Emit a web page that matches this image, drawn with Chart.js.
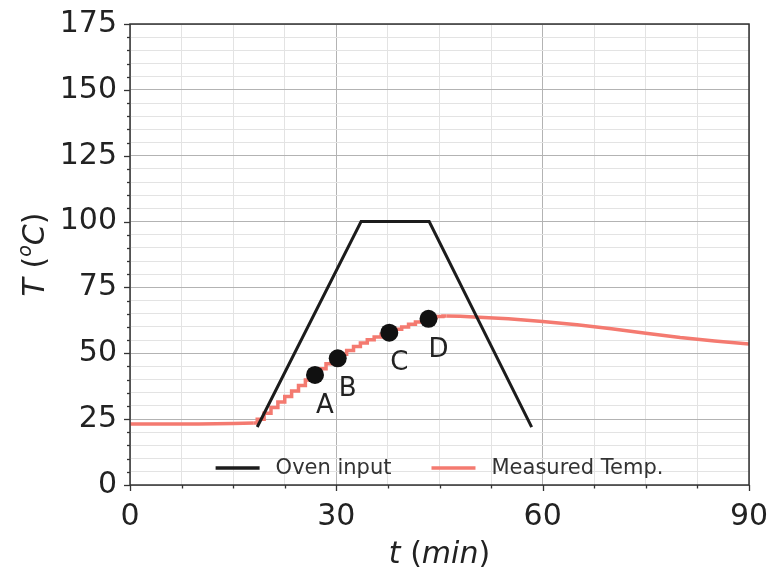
<!DOCTYPE html>
<html>
<head>
<meta charset="utf-8">
<script src="https://cdn.jsdelivr.net/npm/chart.js@4.4.1/dist/chart.umd.min.js"></script>
<style>
  html, body { margin: 0; padding: 0; background: #fff; }
</style>
</head>
<body>
<canvas id="myChart" width="771" height="572"></canvas>
<script>
// ----- data -----
const seriesNames = ['Oven input', 'Measured Temp.'];

const ovenTime = [18.5, 33.6, 43.5, 58.4];
const ovenTemp = [22, 100, 100, 22];

const measTime = [0, 5, 10, 15, 18, 19, 20, 21, 22, 23, 24, 25, 26, 27, 28, 29, 30,
                  31, 32, 33, 34, 35, 36, 37, 38, 39, 40, 41, 42, 43, 44, 45, 46,
                  48, 50, 55, 60, 65, 70, 75, 80, 85, 90];
const measTemp = [23.2, 23.2, 23.2, 23.3, 23.5, 25, 27.2, 29.4, 31.5, 33.6, 35.7, 37.8, 39.9, 42, 44.1, 46, 47.8,
                  49.6, 51.1, 52.6, 53.9, 55.1, 56.2, 57.2, 58.2, 59.1, 60, 61, 61.9, 62.8, 63.5, 64, 64.2,
                  64.1, 63.8, 63.1, 62.1, 60.8, 59.3, 57.6, 56, 54.7, 53.5];

const pointTime = [26.9, 30.2, 37.7, 43.4];
const pointTemp = [41.8, 48.1, 57.8, 63.1];
const pointLabels = ['A', 'B', 'C', 'D'];

const xTickLabels = [0, 30, 60, 90];
const yTickLabels = [0, 25, 50, 75, 100, 125, 150, 175];

// ----- styles -----
const FONT = "'DejaVu Sans', sans-serif";
const OVEN_COLOR = '#1c1c1c';
const MEAS_COLOR = '#f47a70';

function xy(ts, vs) { return ts.map((t, i) => ({ x: t, y: vs[i] })); }
const measAll = xy(measTime, measTemp);
const measFlat = measAll.filter(p => p.x <= 18);
const measRise = measAll.filter(p => p.x >= 18 && p.x <= 46);
const measTail = measAll.filter(p => p.x >= 46);

// mixed-font text helper (for axis titles)
function drawRich(ctx, parts, cx, baseY) {
  let total = 0;
  parts.forEach(p => { ctx.font = p.f; p.w = ctx.measureText(p.t).width; total += p.w; });
  let x = cx - total / 2;
  ctx.textAlign = 'left';
  ctx.textBaseline = 'alphabetic';
  parts.forEach(p => { ctx.font = p.f; ctx.fillText(p.t, x, baseY + (p.dy || 0)); x += p.w; });
}

const decorPlugin = {
  id: 'decor',
  afterDatasetsDraw(chart) {
    const ctx = chart.ctx;
    const a = chart.chartArea;
    ctx.save();
    // frame
    ctx.strokeStyle = '#333';
    ctx.lineWidth = 1.5;
    ctx.strokeRect(a.left, a.top, a.right - a.left, a.bottom - a.top);
    // tick marks
    const xs = chart.scales.x, ys = chart.scales.y;
    ctx.lineWidth = 1.3;
    ys.ticks.forEach(t => {
      const py = Math.round(ys.getPixelForValue(t.value)) + 0.5;
      const len = t.value % 25 === 0 ? 6 : 3;
      ctx.beginPath(); ctx.moveTo(a.left - len, py); ctx.lineTo(a.left, py); ctx.stroke();
    });
    xs.ticks.forEach(t => {
      const px = Math.round(xs.getPixelForValue(t.value)) + 0.5;
      const len = t.value % 30 === 0 ? 6 : 3.5;
      ctx.beginPath(); ctx.moveTo(px, a.bottom); ctx.lineTo(px, a.bottom + len); ctx.stroke();
    });
    // point labels
    const meta = chart.getDatasetMeta(0);
    ctx.fillStyle = '#222';
    ctx.font = '26px ' + FONT;
    ctx.textAlign = 'center';
    ctx.textBaseline = 'middle';
    meta.data.forEach((el, i) => ctx.fillText(pointLabels[i], el.x + 10, el.y + 31));
    // legend (inside plot, bottom centre)
    ctx.font = '21px ' + FONT;
    const items = [
      { name: seriesNames[0], color: OVEN_COLOR },
      { name: seriesNames[1], color: MEAS_COLOR }
    ];
    const handle = 44, pad = 16, gap = 40;
    let total = 0;
    items.forEach((it, i) => { it.w = ctx.measureText(it.name).width; total += handle + pad + it.w + (i ? gap : 0); });
    let x = (a.left + a.right) / 2 - total / 2;
    const ly = 468;
    ctx.textAlign = 'left';
    ctx.textBaseline = 'middle';
    items.forEach(it => {
      ctx.strokeStyle = it.color;
      ctx.lineWidth = 3.5;
      ctx.beginPath(); ctx.moveTo(x, ly); ctx.lineTo(x + handle, ly); ctx.stroke();
      ctx.fillStyle = '#333';
      ctx.fillText(it.name, x + handle + pad, ly + 1);
      x += handle + pad + it.w + gap;
    });
    ctx.restore();
  },
  afterDraw(chart) {
    const ctx = chart.ctx;
    const a = chart.chartArea;
    ctx.save();
    ctx.fillStyle = '#222';
    // x title: t (min)
    drawRich(ctx, [
      { t: 't', f: 'italic 30px ' + FONT },
      { t: ' (', f: '30px ' + FONT },
      { t: 'min', f: 'italic 30px ' + FONT },
      { t: ')', f: '30px ' + FONT }
    ], (a.left + a.right) / 2, 563);
    // y title: T (°C)
    ctx.translate(44, (a.top + a.bottom) / 2);
    ctx.rotate(-Math.PI / 2);
    drawRich(ctx, [
      { t: 'T', f: 'italic 30px ' + FONT },
      { t: ' (', f: '30px ' + FONT },
      { t: 'o', f: 'italic 19px ' + FONT, dy: -13 },
      { t: 'C', f: 'italic 30px ' + FONT },
      { t: ')', f: '30px ' + FONT }
    ], 0, 0);
    ctx.restore();
  }
};

const ctx = document.getElementById('myChart').getContext('2d');
const myChart = new Chart(ctx, {
  type: 'scatter',
  data: {
    datasets: [
      {
        label: 'points',
        data: xy(pointTime, pointTemp),
        backgroundColor: '#111',
        pointRadius: 9,
        pointBorderWidth: 0,
        showLine: false
      },
      {
        label: seriesNames[0],
        data: xy(ovenTime, ovenTemp),
        showLine: true,
        borderColor: OVEN_COLOR,
        borderWidth: 3,
        pointRadius: 0
      },
      {
        label: seriesNames[1],
        data: measFlat,
        showLine: true,
        borderColor: MEAS_COLOR,
        borderWidth: 3.5,
        pointRadius: 0
      },
      {
        label: 'rise',
        data: measRise,
        showLine: true,
        stepped: 'middle',
        borderColor: MEAS_COLOR,
        borderWidth: 3.5,
        pointRadius: 0
      },
      {
        label: 'tail',
        data: measTail,
        showLine: true,
        borderColor: MEAS_COLOR,
        borderWidth: 3.5,
        pointRadius: 0
      }
    ]
  },
  options: {
    responsive: false,
    animation: false,
    devicePixelRatio: 1,
    events: [],
    layout: { padding: { top: 24, right: 22, left: 0, bottom: 0 } },
    plugins: { legend: { display: false }, tooltip: { enabled: false } },
    scales: {
      x: {
        type: 'linear',
        min: 0, max: 90,
        border: { display: false },
        grid: {
          drawTicks: false,
          lineWidth: 1,
          color: c => (c.tick && c.tick.value % 30 === 0) ? '#b3b3b3' : '#e3e3e3'
        },
        ticks: {
          stepSize: 7.5,
          autoSkip: false,
          maxRotation: 0,
          padding: 14,
          color: '#222',
          font: { family: FONT, size: 30 },
          callback: v => xTickLabels.includes(v) ? String(v) : ''
        },
        afterFit: s => { s.height = 87; s.paddingLeft = 0; s.paddingRight = 0; }
      },
      y: {
        type: 'linear',
        min: 0, max: 175,
        border: { display: false },
        grid: {
          drawTicks: false,
          lineWidth: 1,
          color: c => (c.tick && c.tick.value % 25 === 0) ? '#b3b3b3' : '#e3e3e3'
        },
        ticks: {
          stepSize: 5,
          autoSkip: false,
          padding: 13,
          color: '#222',
          font: { family: FONT, size: 30 },
          callback: v => yTickLabels.includes(v) ? String(v) : ''
        },
        afterFit: s => { s.width = 130; s.paddingTop = 0; s.paddingBottom = 0; }
      }
    }
  },
  plugins: [decorPlugin]
});
</script>
</body>
</html>
